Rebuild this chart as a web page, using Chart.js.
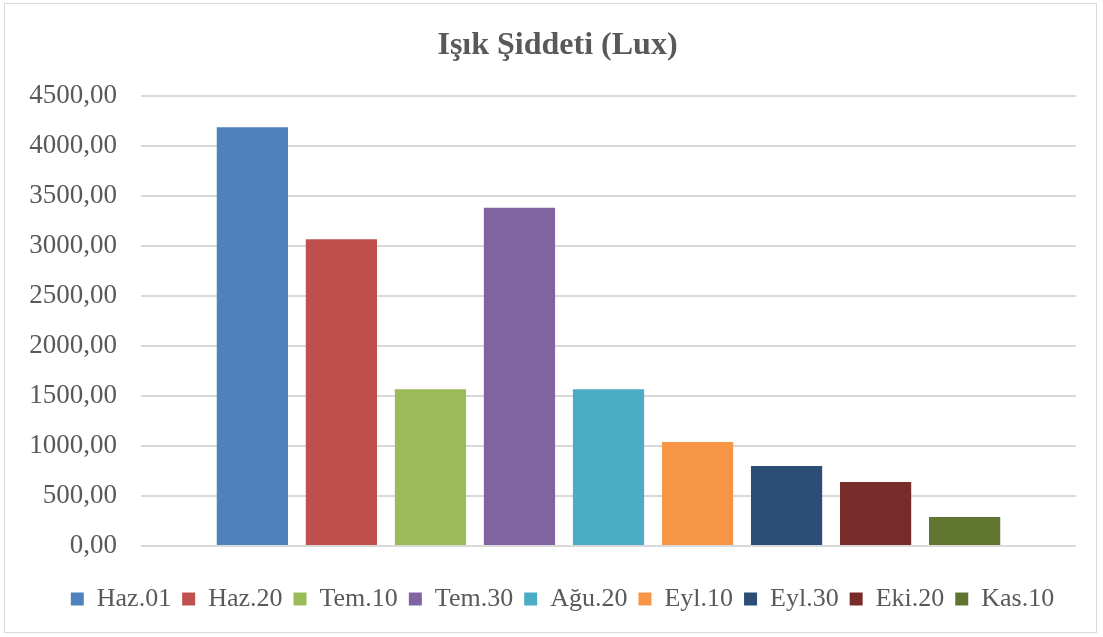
<!DOCTYPE html>
<html>
<head>
<meta charset="utf-8">
<script src="https://cdn.jsdelivr.net/npm/chart.js@4"></script>
<style>
  html, body { margin: 0; padding: 0; background: #fff; }
  #wrap { position: absolute; left: 4px; top: 3px; width: 1093px; height: 630px; border: 1px solid #d9d9d9; box-sizing: border-box; }
  #chart { position: absolute; left: 0; top: 0; }
</style>
</head>
<body>
<div id="wrap"><canvas id="chart" width="1091" height="628"></canvas></div>
<script>
// series (each date is its own series in the original)
var seriesNames = ["Haz.01", "Haz.20", "Tem.10", "Tem.30", "Ağu.20", "Eyl.10", "Eyl.30", "Eki.20", "Kas.10"];
var seriesValues = [4190, 3070, 1570, 3385, 1570, 1040, 800, 640, 290];
var seriesColors = ["#4F81BD", "#C0504D", "#9BBB59", "#8064A2", "#4BACC6", "#F79646", "#2C4D75", "#772C2A", "#5F7530"];
var categories = [""];

var fontFam = "'Liberation Serif', 'Times New Roman', serif";

var datasets = seriesNames.map(function (name, i) {
  return {
    label: name,
    data: [seriesValues[i]],
    backgroundColor: seriesColors[i],
    borderWidth: 0,
    barPercentage: 0.8,
    categoryPercentage: 0.857
  };
});

// excel centres title/legend over the plot, not the whole canvas
var shiftBoxes = {
  id: "shiftBoxes",
  afterLayout: function (chart) {
    if (chart.legend) { chart.legend.left += 22; chart.legend.right += 22; }
    if (chart.titleBlock) { chart.titleBlock.left += 17; chart.titleBlock.right += 17; }
  }
};

new Chart("chart", {
  type: "bar",
  data: { labels: categories, datasets: datasets },
  plugins: [shiftBoxes],
  options: {
    responsive: false,
    animation: false,
    layout: { padding: { left: 0, right: 20, top: 4, bottom: 10 } },
    plugins: {
      title: {
        display: true,
        text: "Işık Şiddeti (Lux)",
        color: "#595959",
        font: { family: fontFam, size: 32, weight: "bold" },
        padding: { top: 19, bottom: 31 }
      },
      legend: {
        position: "bottom",
        labels: {
          color: "#595959",
          font: { family: fontFam, size: 26 },
          boxWidth: 13,
          boxHeight: 13,
          padding: 11
        }
      },
      tooltip: { enabled: false }
    },
    scales: {
      x: {
        grid: { display: false },
        border: { display: false },
        ticks: { display: false },
        afterFit: function (s) { s.height = 29; }
      },
      y: {
        min: 0,
        max: 4500,
        ticks: {
          stepSize: 500,
          color: "#595959",
          font: { family: fontFam, size: 27 },
          padding: 24,
          callback: function (v) { return v.toFixed(2).replace(".", ","); }
        },
        grid: { color: "#d9d9d9", lineWidth: 2, drawTicks: false },
        border: { display: false },
        afterFit: function (s) { s.width = 136; }
      }
    }
  }
});
</script>
</body>
</html>
